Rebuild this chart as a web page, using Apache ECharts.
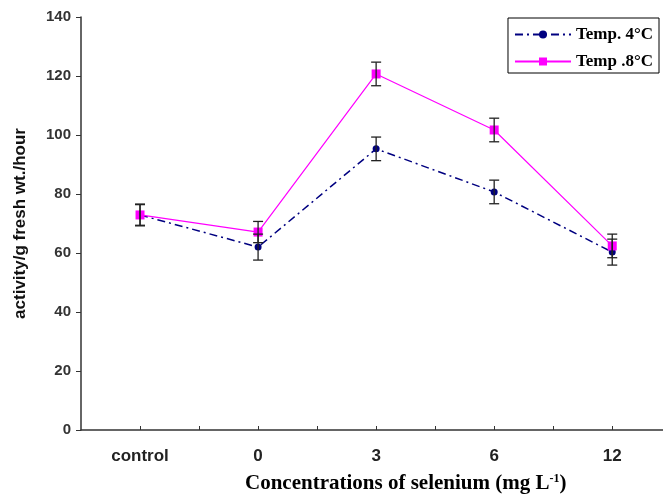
<!DOCTYPE html>
<html>
<head>
<meta charset="utf-8">
<script src="https://cdn.jsdelivr.net/npm/echarts@6/dist/echarts.min.js"></script>
<style>html,body{margin:0;padding:0;background:#fff}#c{width:663px;height:499px}</style>
</head>
<body>
<div id="c"></div>
<script>
const categories = ['control', '0', '3', '6', '12'];
const temp4 = [72.9, 62.0, 95.3, 80.7, 60.3];
const temp8 = [72.9, 67.1, 120.7, 101.7, 62.4];
const err4 = [3.5, 4.4, 4.0, 4.0, 4.4];
const err8 = [3.7, 3.6, 4.0, 4.0, 4.0];
const seriesNames = ['Temp. 4°C', 'Temp .8°C'];

const chart = echarts.init(document.getElementById('c'));

function errData(vals, errs) {
  return vals.map((v, i) => [i, v - errs[i], v + errs[i]]);
}
function errRender(params, api) {
  const x = api.value(0);
  const lo = api.coord([x, api.value(1)]);
  const hi = api.coord([x, api.value(2)]);
  const w = 5;
  const st = {stroke: '#222', lineWidth: 1.3};
  return {
    type: 'group',
    children: [
      {type: 'line', shape: {x1: lo[0], y1: lo[1], x2: hi[0], y2: hi[1]}, style: st},
      {type: 'line', shape: {x1: lo[0] - w, y1: lo[1], x2: lo[0] + w, y2: lo[1]}, style: st},
      {type: 'line', shape: {x1: hi[0] - w, y1: hi[1], x2: hi[0] + w, y2: hi[1]}, style: st}
    ]
  };
}

chart.setOption({
  backgroundColor: '#fff',
  animation: false,
  title: {
    text: '{a|Concentrations of selenium (mg L}{s|-1}{a|)}',
    left: 245, top: 473,
    padding: 0,
    textStyle: {
      rich: {
        a: {fontFamily: 'Liberation Serif', fontWeight: 'bold', fontSize: 21, color: '#000'},
        s: {fontFamily: 'Liberation Serif', fontWeight: 'bold', fontSize: 12, color: '#000', verticalAlign: 'top', padding: [0, 0, 10, 0]}
      }
    }
  },
  legend: {
    data: seriesNames,
    orient: 'vertical',
    right: 4, top: 18,
    borderColor: '#000', borderWidth: 1,
    padding: [8, 6, 3, 6],
    itemWidth: 56, itemHeight: 10, itemGap: 10,
    textStyle: {fontFamily: 'Liberation Serif', fontWeight: 'bold', fontSize: 17, color: '#000'}
  },
  grid: {left: 81, right: 0, top: 17, bottom: 69},
  xAxis: {
    type: 'value', min: -0.5, max: 4.43, interval: 0.5, position: 'bottom',
    axisLine: {show: true, onZero: false, lineStyle: {color: '#333', width: 1.5}},
    axisTick: {show: true, inside: true, length: 4, lineStyle: {color: '#333'}},
    splitLine: {show: false},
    axisLabel: {
      margin: 18,
      showMinLabel: false, showMaxLabel: false,
      fontFamily: 'Liberation Sans', fontWeight: 'bold', fontSize: 17, color: '#222',
      formatter: v => (Number.isInteger(v) && v >= 0 && v < categories.length) ? categories[v] : ''
    }
  },
  yAxis: {
    type: 'value', min: 0, max: 140, interval: 20,
    name: 'activity/g fresh wt./hour',
    nameLocation: 'middle', nameGap: 52,
    nameTextStyle: {fontFamily: 'Liberation Sans', fontWeight: 'bold', fontSize: 17, color: '#111'},
    axisLine: {show: true, onZero: false, lineStyle: {color: '#333', width: 1.5}},
    axisTick: {show: true, length: 5, lineStyle: {color: '#333'}},
    splitLine: {show: false},
    axisLabel: {margin: 10, fontFamily: 'Liberation Sans', fontWeight: 'bold', fontSize: 15, color: '#333'}
  },
  series: [
    {
      name: seriesNames[0], type: 'line',
      data: temp4.map((v, i) => [i, v]),
      symbol: 'circle', symbolSize: 7,
      itemStyle: {color: '#000080'},
      lineStyle: {color: '#000080', width: 1.5, type: [8, 4, 2, 4]},
      z: 3
    },
    {
      name: seriesNames[1], type: 'line',
      data: temp8.map((v, i) => [i, v]),
      symbol: 'rect', symbolSize: 9,
      itemStyle: {color: '#FF00FF'},
      lineStyle: {color: '#FF00FF', width: 1.2},
      z: 4
    },
    {
      type: 'custom', renderItem: errRender,
      data: errData(temp4, err4), z: 5, silent: true
    },
    {
      type: 'custom', renderItem: errRender,
      data: errData(temp8, err8), z: 5, silent: true
    }
  ]
});
</script>
</body>
</html>
